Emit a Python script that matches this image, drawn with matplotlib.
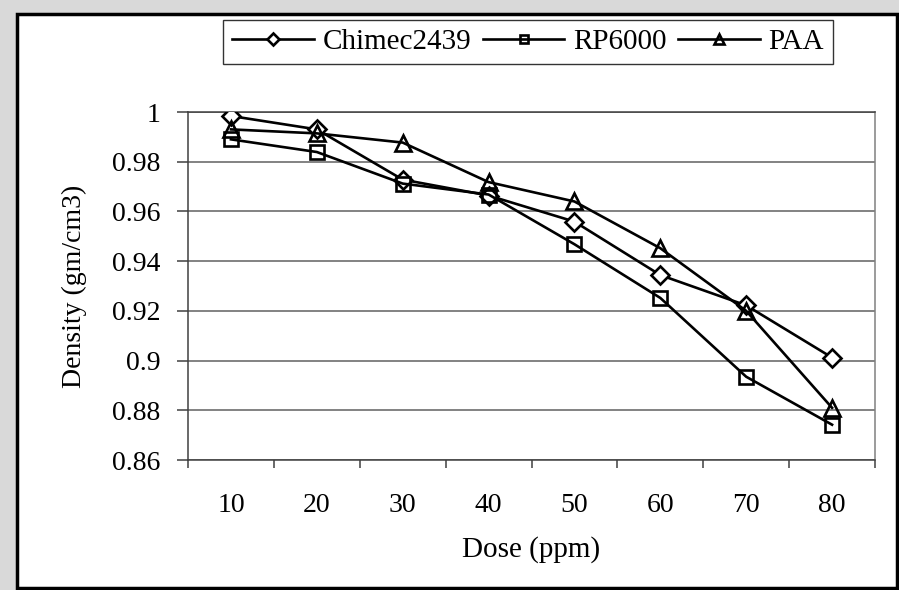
import numpy as np
import matplotlib.pyplot as plt
from matplotlib.patches import Rectangle

dose = ['10', '20', '30', '40', '50', '60', '70', '80']
chimec = [0.9984, 0.9930, 0.9728, 0.9664, 0.9559, 0.9344, 0.9222, 0.9012]
rp6000 = [0.9890, 0.9839, 0.9712, 0.9668, 0.9468, 0.9252, 0.8935, 0.8742]
paa = [0.9930, 0.9914, 0.9877, 0.9718, 0.9640, 0.9452, 0.9200, 0.8810]
yticks = [0.86, 0.88, 0.9, 0.92, 0.94, 0.96, 0.98, 1]

plt.rcParams['font.family'] = ['Liberation Serif', 'DejaVu Serif']

fig = plt.figure(figsize=(8.99, 5.90), dpi=100, facecolor='#d9d9d9')
# white chart area with black frame
fig.patches.append(Rectangle((17 / 899, 2 / 590), 880 / 899, 574 / 590,
                             transform=fig.transFigure, facecolor='white',
                             edgecolor='black', linewidth=2.5, zorder=-1))

ax = fig.add_axes([188 / 899, 1 - 460 / 590, 687 / 899, 348 / 590])
ax.set_zorder(1)
ax.set_facecolor('none')

x = np.arange(len(dose))
ax.plot(x, chimec, color='black', lw=1.9, marker='D', ms=9.5, mfc='white',
        mec='black', mew=1.9, label='Chimec2439', zorder=3)
ax.plot(x, rp6000, color='black', lw=1.9, marker='s', ms=9.5, mfc='none',
        mec='black', mew=1.9, label='RP6000', zorder=3)
ax.plot(x, paa, color='black', lw=1.9, marker='^', ms=11, mfc='none',
        mec='black', mew=1.9, label='PAA', zorder=3)

ax.set_ylim(0.86, 1.0)
ax.set_xlim(-0.5, len(dose) - 0.5)
ax.set_yticks(yticks)
ax.set_yticklabels(['0.86', '0.88', '0.9', '0.92', '0.94', '0.96', '0.98', '1'])
ax.yaxis.grid(True, color='#606060', lw=1.1)
ax.set_axisbelow(True)

ax.set_xticks(np.arange(-0.5, len(dose)), minor=False)
ax.set_xticklabels([])
ax.set_xticks(x, minor=True)
ax.set_xticklabels(dose, minor=True)
ax.tick_params(axis='x', which='major', length=6, width=1.1, color='#404040', direction='out')
ax.tick_params(axis='x', which='minor', length=0, pad=24, labelsize=20)
ax.tick_params(axis='y', length=8, width=1.1, color='#404040', direction='out', pad=12, labelsize=20)

ax.spines['top'].set_color('#404040')
ax.spines['right'].set_color('#808080')
ax.spines['left'].set_color('#404040')
ax.spines['bottom'].set_color('#404040')
for s in ax.spines.values():
    s.set_linewidth(1.1)

ax.set_xlabel('Dose (ppm)', fontsize=21, labelpad=13)
ax.set_ylabel('Density (gm/cm3)', fontsize=20, labelpad=18)

leg = fig.legend(loc='center', bbox_to_anchor=(528 / 899, 1 - 42 / 590), ncol=3,
                 fontsize=21, frameon=True, fancybox=False, edgecolor='black',
                 handlelength=2.8, handletextpad=0.3, columnspacing=0.4,
                 borderpad=0.3, markerscale=0.65)
leg.get_frame().set_linewidth(1.0)
leg.set_zorder(5)

fig.savefig('out.png', dpi=100, facecolor=fig.get_facecolor())
